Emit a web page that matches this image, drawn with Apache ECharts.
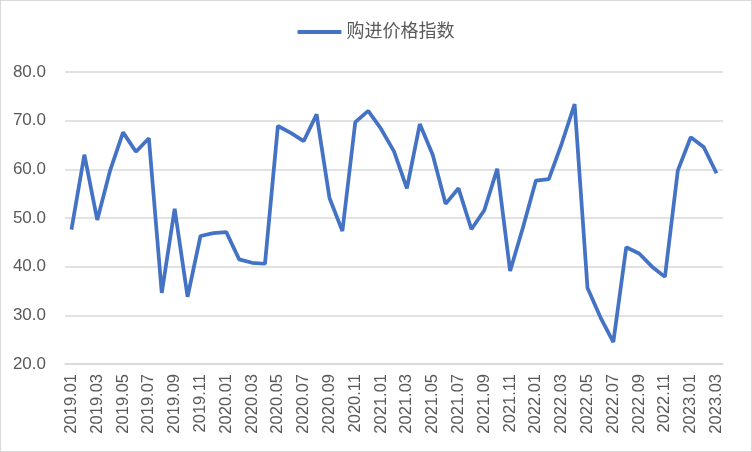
<!DOCTYPE html>
<html>
<head>
<meta charset="utf-8">
<script src="https://cdn.jsdelivr.net/npm/echarts@6/dist/echarts.min.js"></script>
<style>
  html, body { margin: 0; padding: 0; background: #fff; }
  #main { width: 752px; height: 452px; box-sizing: border-box; border: 1px solid #d9d9d9; }
</style>
</head>
<body>
<div id="main"></div>
<script>
var months = [
  '2019.01','2019.02','2019.03','2019.04','2019.05','2019.06','2019.07','2019.08','2019.09','2019.10','2019.11','2019.12',
  '2020.01','2020.02','2020.03','2020.04','2020.05','2020.06','2020.07','2020.08','2020.09','2020.10','2020.11','2020.12',
  '2021.01','2021.02','2021.03','2021.04','2021.05','2021.06','2021.07','2021.08','2021.09','2021.10','2021.11','2021.12',
  '2022.01','2022.02','2022.03','2022.04','2022.05','2022.06','2022.07','2022.08','2022.09','2022.10','2022.11','2022.12',
  '2023.01','2023.02','2023.03'
];
var purchaseIndex = [
  47.6, 63.0, 49.6, 59.8, 67.6, 63.6, 66.4, 34.6, 51.9, 33.8, 46.3, 46.9,
  47.1, 41.5, 40.8, 40.6, 68.9, 67.5, 65.8, 71.3, 54.1, 47.3, 69.7, 72.0,
  68.3, 63.7, 56.1, 69.3, 63.0, 52.9, 56.1, 47.7, 51.6, 60.1, 39.1, 48.1,
  57.7, 58.0, 65.3, 73.4, 35.6, 29.6, 24.5, 44.0, 42.7, 40.0, 37.9, 59.8,
  66.6, 64.6, 59.2
];

var font = '"Liberation Sans", "Noto Sans CJK SC", sans-serif';
var chart = echarts.init(document.getElementById('main'));
chart.setOption({
  animation: false,
  legend: {
    top: 17,
    left: 'center',
    itemWidth: 44,
    itemHeight: 4,
    itemGap: 4,
    icon: 'roundRect',
    textStyle: { fontFamily: font, fontSize: 18, color: '#595959' },
    data: ['购进价格指数']
  },
  grid: { left: 64, right: 28, top: 71, bottom: 87 },
  xAxis: {
    type: 'category',
    data: months,
    boundaryGap: true,
    axisLine: { lineStyle: { color: '#d9d9d9', width: 1.5 } },
    axisTick: { show: false },
    axisLabel: {
      interval: 1,
      rotate: 90,
      margin: 10,
      fontFamily: font,
      fontSize: 16.5,
      color: '#595959'
    }
  },
  yAxis: {
    type: 'value',
    min: 20,
    max: 80,
    interval: 10,
    axisLine: { show: false },
    axisTick: { show: false },
    splitLine: { lineStyle: { color: '#d9d9d9', width: 1.5 } },
    axisLabel: {
      margin: 19,
      fontFamily: font,
      fontSize: 17,
      color: '#595959',
      formatter: function (v) { return v.toFixed(1); }
    }
  },
  series: [{
    name: '购进价格指数',
    type: 'line',
    data: purchaseIndex,
    symbol: 'none',
    lineStyle: { color: '#4472c4', width: 3.75 },
    itemStyle: { color: '#4472c4' }
  }]
});
</script>
</body>
</html>
